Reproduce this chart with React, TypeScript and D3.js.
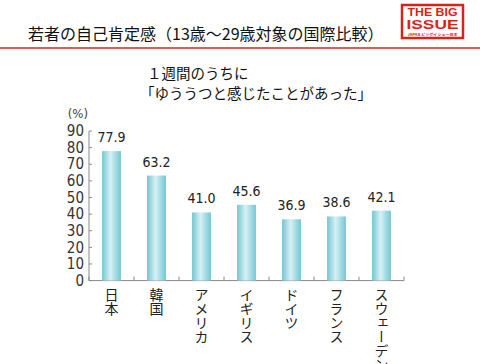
import React from 'react'
import * as d3 from 'd3'

const categories = ['日本', '韓国', 'アメリカ', 'イギリス', 'ドイツ', 'フランス', 'スウェーデン']
const values = [77.9, 63.2, 41.0, 45.6, 36.9, 38.6, 42.1]
const yTicks = [0, 10, 20, 30, 40, 50, 60, 70, 80, 90]

const W = 480
const H = 364
const jp = '"Noto Sans CJK JP", "Noto Sans", sans-serif'
const num = '"Liberation Sans Narrow", "DejaVu Sans Condensed", "Liberation Sans", sans-serif'
const red = '#d8231b'

const App = () => {
  const x = d3.scaleBand<string>().domain(categories).range([89, 404])
  const y = d3.scaleLinear().domain([0, 90]).range([280.6, 131])
  const barW = x.bandwidth() * 0.42
  const boundaries = categories.map(c => x(c) as number).concat([404])

  return (
    <svg width={W} height={H} style={{ position: 'absolute', left: 0, top: 0, background: '#fff' }}>
      <defs>
        <linearGradient id="barGrad" x1="0" x2="1" y1="0" y2="0">
          <stop offset="0%" stopColor="#74c6d2" />
          <stop offset="45%" stopColor="#d6f1f5" />
          <stop offset="100%" stopColor="#74c6d2" />
        </linearGradient>
      </defs>

      {/* title */}
      <text x={28} y={40} fontFamily={jp} fontSize={16} fill="#111">
        若者の自己肯定感（13歳～29歳対象の国際比較）
      </text>
      <line x1={0} x2={W} y1={48} y2={48} stroke={red} strokeWidth={1.5} />

      {/* logo */}
      <rect x={402} y={5} width={61} height={33} fill="#fff" stroke={red} strokeWidth={2.5} />
      <text x={432.5} y={15.5} textAnchor="middle" fontFamily='"Liberation Sans", sans-serif' fontWeight="bold"
        fontSize={11.5} fill={red} textLength={50} lengthAdjust="spacingAndGlyphs">THE BIG</text>
      <text x={432.5} y={28.8} textAnchor="middle" fontFamily='"Liberation Sans", sans-serif' fontWeight="bold"
        fontSize={13.5} fill={red} textLength={52} lengthAdjust="spacingAndGlyphs">ISSUE</text>
      <text x={432.5} y={35.8} textAnchor="middle" fontFamily={jp} fontWeight="bold"
        fontSize={3.8} fill={red} textLength={50} lengthAdjust="spacingAndGlyphs">JAPAN ビッグイシュー日本</text>

      {/* subtitle */}
      <text x={147} y={79} fontFamily={jp} fontSize={14.5} fill="#111">１週間のうちに</text>
      <text x={140} y={99} fontFamily={jp} fontSize={14.5} fill="#111">「ゆううつと感じたことがあった」</text>

      {/* y axis */}
      <text x={88} y={118} textAnchor="end" fontFamily={num} fontSize={13} fill="#444">(%)</text>
      <line x1={89} x2={89} y1={y(90)} y2={y(0)} stroke="#888" strokeWidth={1} />
      {yTicks.map(t => (
        <g key={t}>
          <line x1={89} x2={92} y1={y(t)} y2={y(t)} stroke="#888" strokeWidth={1} />
          <text x={84} y={y(t)} dy="0.35em" textAnchor="end" fontFamily={num} fontSize={15} fill="#333">{t}</text>
        </g>
      ))}

      {/* x axis */}
      <line x1={89} x2={404} y1={y(0)} y2={y(0)} stroke="#888" strokeWidth={1} />
      {boundaries.map((b, i) => (
        <line key={i} x1={b} x2={b} y1={y(0) - 4} y2={y(0)} stroke="#888" strokeWidth={1} />
      ))}

      {/* bars */}
      {categories.map((c, i) => {
        const cx = (x(c) as number) + x.bandwidth() / 2
        return (
          <g key={c}>
            <rect x={cx - barW / 2} y={y(values[i])} width={barW} height={y(0) - y(values[i])} fill="url(#barGrad)" />
            <text x={cx} y={y(values[i]) - 9} textAnchor="middle" fontFamily={num} fontSize={14} fill="#222">
              {values[i].toFixed(1)}
            </text>
            <text x={cx} y={288} fontFamily={jp} fontSize={14} fill="#222" style={{ writingMode: 'vertical-rl' }}>
              {c}
            </text>
          </g>
        )
      })}
    </svg>
  )
}

export default App
